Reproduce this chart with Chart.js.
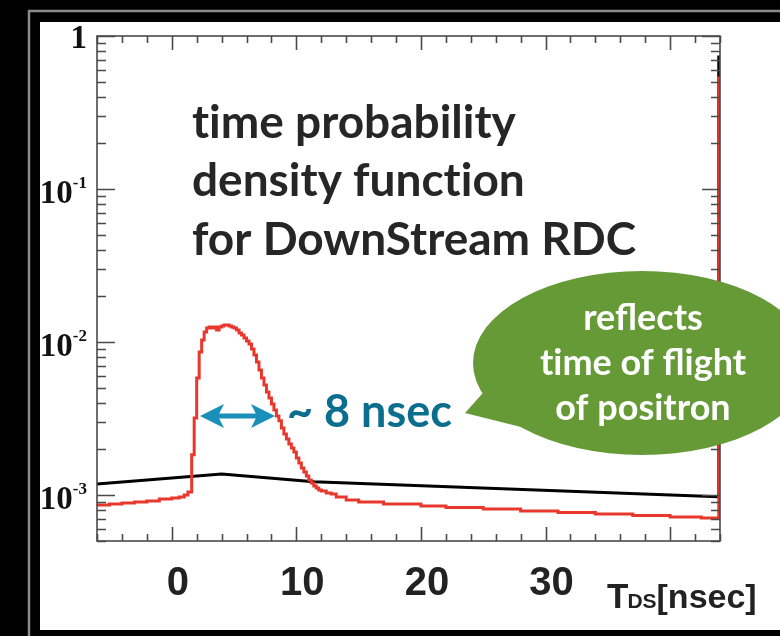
<!DOCTYPE html>
<html>
<head>
<meta charset="utf-8">
<script src="https://cdn.jsdelivr.net/npm/chart.js@4.4.1/dist/chart.umd.min.js"></script>
<style>
  html, body { margin: 0; padding: 0; background: #000; overflow: hidden; }
  #chart { display: block; }
</style>
</head>
<body>
<canvas id="chart" width="780" height="636"></canvas>
<script>
const X_MIN = -6, X_MAX = 44, X_MINOR_STEP = 2;
const Y_MIN = 5e-4, Y_MAX = 1;

const X_MAJOR_TICKS = [0, 10, 20, 30];
const X_TICK_LABELS = ["0", "10", "20", "30"];
const Y_MAJOR_TICKS = [1, 0.1, 0.01, 0.001];
const Y_TICK_EXPONENTS = ["", "-1", "-2", "-3"];

// black reference curve
const BLACK_T = [-6, 4, 11.4, 43.85, 43.9, 44];
const BLACK_V = [1.18e-3, 1.372e-3, 1.22e-3, 9.72e-4, 0.729, 0.729];

// red histogram: bin low edges (nsec) and contents
const RED_T = [-6, -5, -4, -3, -2, -1, 0, 0.6, 1.0, 1.3,
  1.6, 1.8, 2.0, 2.2, 2.4, 2.6, 2.8, 3.0, 3.2, 3.4, 3.6, 3.8, 4.0, 4.2, 4.4, 4.6, 4.8,
  5.0, 5.2, 5.4, 5.6, 5.8, 6.0, 6.2, 6.4, 6.6, 6.8, 7.0, 7.2, 7.4, 7.6, 7.8,
  8.0, 8.2, 8.4, 8.6, 8.8, 9.0, 9.2, 9.4, 9.6, 9.8, 10.0, 10.2, 10.4, 10.6, 10.8,
  11.0, 11.2, 11.4, 11.6, 11.8, 12.0, 12.4, 12.8, 13.2, 14, 15, 17, 20, 22, 25,
  28, 31, 34, 37, 40, 42.5, 43.9, 44];
const RED_V = [8.60e-4, 8.73e-4, 8.86e-4, 9.00e-4, 9.14e-4, 9.42e-4, 9.56e-4, 9.70e-4, 1.0e-3, 1.046e-3,
  1.83e-3, 3.19e-3, 5.82e-3, 8.60e-3, 1.031e-2, 1.163e-2, 1.234e-2, 1.253e-2, 1.234e-2, 1.253e-2,
  1.198e-2, 1.253e-2, 1.272e-2, 1.291e-2, 1.291e-2, 1.272e-2, 1.253e-2,
  1.234e-2, 1.198e-2, 1.145e-2, 1.111e-2, 1.062e-2, 1.015e-2, 9.70e-3, 9.00e-3, 8.22e-3, 7.40e-3,
  6.56e-3, 5.82e-3, 5.24e-3, 4.71e-3, 4.31e-3,
  3.93e-3, 3.59e-3, 3.28e-3, 3.05e-3, 2.74e-3, 2.50e-3, 2.32e-3, 2.15e-3, 2.03e-3, 1.91e-3,
  1.745e-3, 1.62e-3, 1.50e-3, 1.41e-3, 1.33e-3,
  1.253e-3, 1.198e-3, 1.145e-3, 1.111e-3, 1.078e-3, 1.062e-3, 1.031e-3, 1.015e-3, 9.70e-4,
  9.28e-4, 9.00e-4, 8.73e-4, 8.47e-4, 8.28e-4, 8.10e-4,
  7.86e-4, 7.69e-4, 7.51e-4, 7.34e-4, 7.18e-4, 7.07e-4, 0.531, 0.531];

const TITLE_LINES = ["time probability", "density function", "for DownStream RDC"];
const WIDTH_TEXT = "~ 8 nsec";
const BUBBLE_LINES = ["reflects", "time of flight", "of positron"];

const SANS = '"Lato", "Open Sans", sans-serif';

// Lato joins "ti" into a ligature; the slide font does not
const noTi = (s) => s.replace(/ti/g, "t\u200Ci");

function drawBackground(chart) {
  const ctx = chart.ctx;
  ctx.save();
  ctx.fillStyle = "#000";
  ctx.fillRect(0, 0, chart.width, chart.height);
  ctx.strokeStyle = "#8c8c8c";
  ctx.lineWidth = 2.5;
  ctx.strokeRect(29, 11, 800, 700);
  ctx.fillStyle = "#fff";
  ctx.fillRect(40, 22, 760, 608);
  ctx.restore();
}

function drawAxes(chart) {
  const { ctx, chartArea: a } = chart;
  const xs = chart.scales.x, ys = chart.scales.y;
  ctx.save();
  ctx.strokeStyle = "#4a4a4a";
  ctx.lineWidth = 1.6;
  ctx.strokeRect(a.left, a.top, a.right - a.left, a.bottom - a.top);

  ctx.beginPath();
  for (let t = X_MIN; t <= X_MAX + 1e-9; t += X_MINOR_STEP) {
    const px = Math.round(xs.getPixelForValue(t)) + 0.5;
    const len = t % 10 === 0 ? 14 : 7;
    ctx.moveTo(px, a.bottom); ctx.lineTo(px, a.bottom - len);
    ctx.moveTo(px, a.top); ctx.lineTo(px, a.top + len);
  }
  for (let d = -4; d <= 0; d++) {
    for (let m = 1; m <= 9; m++) {
      const v = m * Math.pow(10, d);
      if (v < Y_MIN * 0.999 || v > Y_MAX * 1.001) continue;
      const py = Math.round(ys.getPixelForValue(v)) + 0.5;
      const len = m === 1 ? 18 : 9;
      ctx.moveTo(a.left, py); ctx.lineTo(a.left + len, py);
      ctx.moveTo(a.right, py); ctx.lineTo(a.right - len, py);
    }
  }
  ctx.stroke();

  // y labels
  ctx.fillStyle = "#111";
  ctx.textAlign = "right";
  ctx.textBaseline = "alphabetic";
  const rightEdge = 87;
  Y_MAJOR_TICKS.forEach((v, i) => {
    const py = ys.getPixelForValue(v);
    const exp = Y_TICK_EXPONENTS[i];
    if (!exp) {
      ctx.font = 'bold 33px "Liberation Serif", serif';
      ctx.fillText("1", rightEdge, py + 12);
      return;
    }
    ctx.font = 'bold 17px "Liberation Serif", serif';
    const w = ctx.measureText(exp).width;
    ctx.fillText(exp, rightEdge, py - 1);
    ctx.font = 'bold 33px "Liberation Serif", serif';
    ctx.fillText("10", rightEdge - w, py + 14);
  });

  // x labels
  ctx.fillStyle = "#222";
  ctx.textAlign = "center";
  ctx.font = 'bold 40px "Liberation Sans", Arial, sans-serif';
  X_MAJOR_TICKS.forEach((t, i) => {
    ctx.fillText(X_TICK_LABELS[i], xs.getPixelForValue(t) + 6, 595);
  });

  // axis title T_DS[nsec]
  ctx.textAlign = "left";
  let x = 607;
  ctx.font = 'bold 35px "Liberation Sans", Arial, sans-serif';
  ctx.fillText("T", x, 608);
  x += ctx.measureText("T").width - 1;
  ctx.font = 'bold 21px "Liberation Sans", Arial, sans-serif';
  ctx.fillText("DS", x, 608);
  x += ctx.measureText("DS").width;
  ctx.font = 'bold 34px "Liberation Sans", Arial, sans-serif';
  ctx.fillText("[nsec]", x, 608);
  ctx.restore();
}

function drawNotes(chart) {
  const ctx = chart.ctx;
  ctx.save();
  // title block
  ctx.fillStyle = "#262626";
  ctx.font = "bold 46px " + SANS;
  ctx.textAlign = "left";
  [138, 196, 255].forEach((y, i) => ctx.fillText(noTi(TITLE_LINES[i]), 192, y));

  // width arrow
  const y0 = 416, xa = 200, xb = 275, head = 24, half = 12, notch = 6;
  ctx.fillStyle = "#1a8fba";
  ctx.fillRect(xa + head - notch, y0 - 2.5, (xb - xa) - 2 * (head - notch), 5);
  ctx.beginPath();
  ctx.moveTo(xa, y0); ctx.lineTo(xa + head, y0 - half); ctx.lineTo(xa + head - notch, y0); ctx.lineTo(xa + head, y0 + half); ctx.closePath();
  ctx.moveTo(xb, y0); ctx.lineTo(xb - head, y0 - half); ctx.lineTo(xb - head + notch, y0); ctx.lineTo(xb - head, y0 + half); ctx.closePath();
  ctx.fill();
  ctx.fillStyle = "#0b6e8e";
  ctx.font = "bold 45px " + SANS;
  ctx.fillText(WIDTH_TEXT, 287, 427);

  // speech bubble
  ctx.fillStyle = "#659a37";
  ctx.beginPath();
  ctx.ellipse(642, 363, 169, 92, 0, 0, Math.PI * 2);
  ctx.fill();
  ctx.beginPath();
  ctx.moveTo(490, 385); ctx.lineTo(465, 413); ctx.lineTo(525, 428); ctx.closePath();
  ctx.fill();
  ctx.fillStyle = "#fff";
  ctx.textAlign = "center";
  ctx.font = "bold 36px " + SANS;
  [330, 375, 420].forEach((y, i) => ctx.fillText(noTi(BUBBLE_LINES[i]), 643, y));
  ctx.restore();
}

const decor = {
  id: "decor",
  beforeDraw: drawBackground,
  afterDatasetsDraw(chart) { drawAxes(chart); drawNotes(chart); }
};

function build() {
  new Chart(document.getElementById("chart"), {
    type: "line",
    data: {
      datasets: [
        {
          data: RED_T.map((t, i) => ({ x: t, y: RED_V[i] })),
          borderColor: "#e8382d",
          borderWidth: 3,
          stepped: "before",
          pointRadius: 0,
          fill: false,
        },
        {
          data: BLACK_T.map((t, i) => ({ x: t, y: BLACK_V[i] })),
          borderColor: "#000",
          borderWidth: 3,
          tension: 0,
          pointRadius: 0,
          fill: false,
        },
      ],
    },
    options: {
      responsive: false,
      animation: false,
      devicePixelRatio: 1,
      layout: { padding: { left: 97, right: 60, top: 36, bottom: 95 } },
      plugins: { legend: { display: false }, tooltip: { enabled: false } },
      scales: {
        x: { type: "linear", min: X_MIN, max: X_MAX, display: false },
        y: { type: "logarithmic", min: Y_MIN, max: Y_MAX, display: false },
      },
    },
    plugins: [decor],
  });
}

Promise.all([
  document.fonts.load("bold 48px Lato"),
  document.fonts.load('bold 32px "Liberation Serif"'),
  document.fonts.load('bold 40px "Liberation Sans"'),
]).then(build, build);
</script>
</body>
</html>
